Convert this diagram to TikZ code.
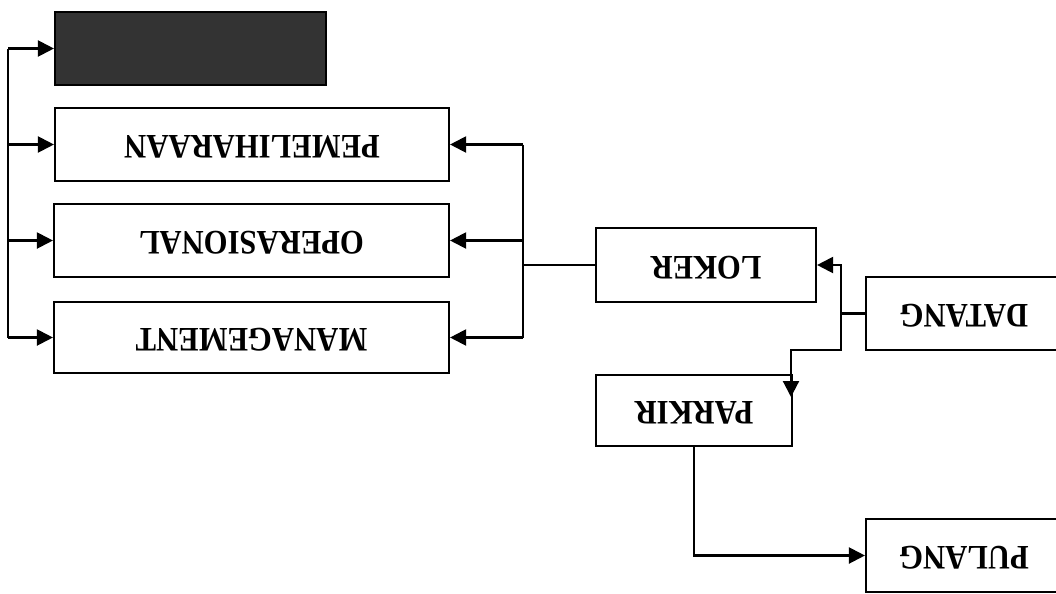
\documentclass[tikz,border=0pt]{standalone}
\usepackage{fontspec}
\usepackage{graphicx}
\setmainfont{Liberation Serif}
\usetikzlibrary{arrows.meta}
\newcommand{\flip}[1]{\raisebox{-4pt}{\rotatebox{180}{\scalebox{1}[1.12]{#1}}}}
\begin{document}
\begin{tikzpicture}[x=0.75pt,y=-0.75pt,
  box/.style={draw, line width=1.6pt, inner sep=0pt, font=\bfseries\fontsize{23}{27}\selectfont},
  conn/.style={line width=1.6pt},
  arr/.style={line width=1.6pt, -{Triangle[length=12pt,width=12pt]}}]
\useasboundingbox (0,0) rectangle (1056,593);
% boxes (w,h in px * 0.75pt)
\node[box, fill=black!80, minimum width=203.25pt, minimum height=54.75pt] (dark) at (190.5,48.5) {};
\node[box, minimum width=295.5pt, minimum height=54.75pt] (pem) at (252,144.5) {\flip{PEMELIHARAAN}};
\node[box, minimum width=296.25pt, minimum height=54.75pt] (ope) at (251.5,240.5) {\flip{OPERASIONAL}};
\node[box, minimum width=296.25pt, minimum height=53.25pt] (man) at (251.5,337.5) {\flip{MANAGEMENT}};
\node[box, minimum width=165pt, minimum height=55.5pt] (lok) at (706,265) {\flip{LOKER}};
\node[box, minimum width=147pt, minimum height=54.75pt] (dat) at (964,313.5) {\flip{DATANG}};
\node[box, minimum width=147pt, minimum height=53.25pt] (par) at (694,410.5) {\flip{PARKIR}};
\node[box, minimum width=147pt, minimum height=54.75pt] (pul) at (964,555.5) {\flip{PULANG}};
% left bus
\coordinate (lt) at (8,48.5);
\coordinate (lb) at (8,337.5);
\draw[conn] (lt) -- (lb);
\draw[arr] (lt) -- (dark.west);
\draw[arr] (lt |- pem.west) -- (pem.west);
\draw[arr] (lt |- ope.west) -- (ope.west);
\draw[arr] (lb) -- (man.west);
% right bus
\coordinate (rt) at (523,144.5);
\coordinate (rb) at (523,337.5);
\draw[conn] (rt) -- (rb);
\draw[arr] (rt) -- (pem.east);
\draw[arr] (rt |- ope.east) -- (ope.east);
\draw[arr] (rb) -- (man.east);
\draw[conn] (lok.west) -- (rt |- lok.west);
% datang branch
\coordinate (jd) at (841,313.5);
\coordinate (pk) at (791,397);
\draw[conn] (dat.west) -- (jd);
\draw[arr] (jd) |- (lok.east);
\draw[arr] (jd) |- (791,350) -- (pk);
% parkir to pulang
\coordinate (ps) at (694,446);
\draw[arr] (ps) |- (pul.west);
\end{tikzpicture}
\end{document}
